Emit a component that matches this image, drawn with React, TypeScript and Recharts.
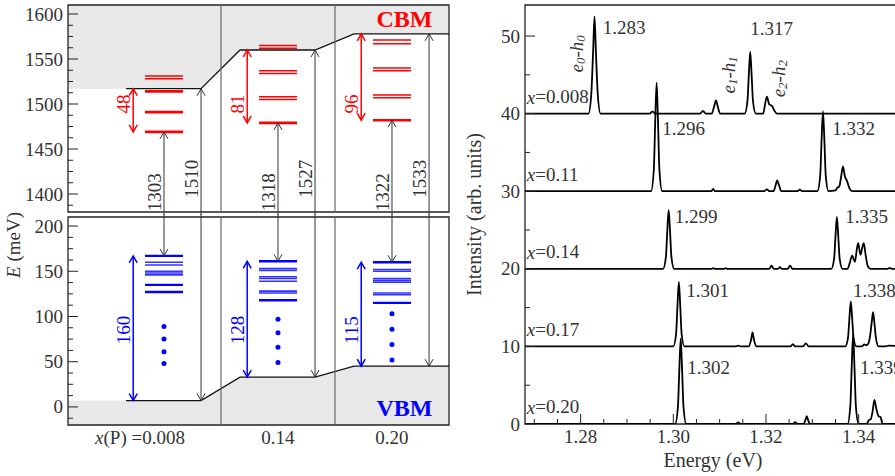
import React from 'react';
import {
  ComposedChart,
  Line,
  Area,
  XAxis,
  YAxis,
  ReferenceLine,
  ReferenceDot,
  ReferenceArea,
} from 'recharts';

const FONT = '"Liberation Serif", "Times New Roman", serif';
const INK = '#333';
const RED = '#ff0000';
const BLUE = '#0000ff';
const FS = 19;

// ---------- left panel: band diagram (meV) ----------
const compositions = ['0.008', '0.14', '0.20'];
const vbm = [7, 33, 45];
const cbm = [1517, 1560, 1578];
const eConf = [48, 81, 96]; // CBM - e0
const hConf = [160, 128, 115]; // h0 - VBM
const e0h0 = [1303, 1318, 1322];
const gapE = [1510, 1527, 1533];
const eLevels = [
  [1531, 1528, 1514, 1491, 1469],
  [1565, 1562, 1537, 1534, 1508, 1505, 1479],
  [1571, 1567, 1540, 1537, 1510, 1507, 1482],
];
const hLevels = [
  [167, 160, 157, 150, 148, 146, 135, 127],
  [161, 153, 151, 144, 142, 139, 128, 126, 118],
  [160, 152, 150, 142, 140, 138, 126, 124, 115],
];
const hDots = [
  [89, 75, 61, 48],
  [97, 82, 66, 49],
  [103, 86, 69, 52],
];

// ---------- right panel: spectra (E in eV, intensity above own baseline) ----------
const spectrumComps = ['0.008', '0.11', '0.14', '0.17', '0.20'];
const spectrumOffsets = [40, 30, 20, 10, 0];
const spec008 = [
  [1.268, 0], [1.2817, 0], [1.2823, 2.5], [1.2827, 8], [1.283, 12.5], [1.2833, 8], [1.2837, 2.5], [1.2843, 0],
  [1.2949, 0], [1.2955, 0.3], [1.2961, 0],
  [1.3058, 0], [1.3064, 0.35], [1.307, 0],
  [1.3083, 0], [1.3088, 0.9], [1.3092, 1.7], [1.3096, 0.9], [1.3101, 0],
  [1.3154, 0], [1.316, 1.6], [1.3163, 5], [1.3166, 8], [1.3169, 5], [1.3172, 1.6], [1.3178, 0],
  [1.3194, 0], [1.3198, 1.2], [1.3202, 2.2], [1.3207, 1.2], [1.3213, 1.0], [1.3218, 0.4], [1.3224, 0],
  [1.35, 0],
];
const spec011 = [
  [1.268, 0], [1.2952, 0], [1.2958, 2.8], [1.2961, 9], [1.2964, 14], [1.2967, 9], [1.297, 2.8], [1.2976, 0],
  [1.3082, 0], [1.3086, 0.3], [1.309, 0],
  [1.3196, 0], [1.3202, 0.25], [1.3207, 0],
  [1.3216, 0], [1.3221, 0.8], [1.3224, 1.4], [1.3228, 0.8], [1.3233, 0],
  [1.3268, 0], [1.3273, 0.2], [1.3278, 0],
  [1.3311, 0], [1.3317, 2], [1.332, 6.6], [1.3323, 10.3], [1.3326, 6.6], [1.3329, 2], [1.3335, 0],
  [1.335, 0.1], [1.3354, 0.45], [1.3358, 0.6], [1.3362, 1.8], [1.3366, 3.2], [1.337, 2.0], [1.3375, 1.3], [1.338, 0.4], [1.3386, 0],
  [1.35, 0],
];
const spec014 = [
  [1.268, 0], [1.2978, 0], [1.2984, 1.5], [1.2987, 4.8], [1.299, 7.6], [1.2993, 4.8], [1.2996, 1.5], [1.3002, 0],
  [1.3082, 0], [1.3086, 0.1], [1.309, 0], [1.3109, 0], [1.3113, 0.1], [1.3117, 0],
  [1.3207, 0], [1.3212, 0.4], [1.3217, 0], [1.3226, 0], [1.323, 0.2], [1.3234, 0], [1.3247, 0], [1.3252, 0.4], [1.3257, 0],
  [1.3341, 0], [1.3347, 1.3], [1.335, 4.2], [1.3353, 6.7], [1.3356, 4.2], [1.3359, 1.3], [1.3365, 0],
  [1.3376, 0], [1.3381, 0.8], [1.3386, 1.7], [1.3392, 0.9], [1.3396, 2.5], [1.3399, 3.3], [1.3404, 1.8], [1.3408, 2.8], [1.3411, 3.3], [1.3415, 1.8], [1.342, 0.3], [1.3426, 0],
  [1.3462, 0], [1.3467, 0.1], [1.3472, 0], [1.35, 0],
];
const spec017 = [
  [1.268, 0], [1.3, 0], [1.3006, 1.6], [1.3009, 5.2], [1.3012, 8.3], [1.3015, 5.2], [1.3018, 1.6], [1.3024, 0],
  [1.3135, 0], [1.314, 0.1], [1.3145, 0],
  [1.3163, 0], [1.3168, 0.9], [1.3171, 1.8], [1.3174, 0.9], [1.3179, 0],
  [1.3253, 0], [1.3258, 0.3], [1.3263, 0],
  [1.328, 0], [1.3286, 0.4], [1.3292, 0],
  [1.3371, 0], [1.3377, 1.1], [1.338, 3.6], [1.3383, 5.8], [1.3386, 3.6], [1.3389, 1.1], [1.3395, 0],
  [1.3407, 0], [1.3412, 0.25], [1.3417, 0.15], [1.3421, 0.4], [1.3425, 1.5], [1.3428, 3.0], [1.3431, 4.4], [1.3434, 3.0], [1.3437, 1.2], [1.3443, 0],
  [1.3458, 0], [1.3465, 0.1], [1.35, 0],
];
const spec020 = [
  [1.268, 0], [1.3004, 0], [1.301, 2.2], [1.3013, 7], [1.3016, 11], [1.3019, 7], [1.3022, 2.2], [1.3028, 0],
  [1.3135, 0], [1.314, 0.2], [1.3145, 0],
  [1.3258, 0], [1.3263, 0.25], [1.3268, 0],
  [1.3281, 0], [1.3285, 0.5], [1.3288, 1.0], [1.3291, 0.5], [1.3295, 0],
  [1.3376, 0], [1.3382, 2.3], [1.3385, 7.3], [1.3388, 11.5], [1.3391, 7.3], [1.3394, 2.3], [1.34, 0],
  [1.3417, 0], [1.3422, 0.5], [1.3426, 0.6], [1.343, 1.6], [1.3434, 3.1], [1.3438, 2.0], [1.3443, 1.0], [1.3447, 0.9], [1.3452, 0],
  [1.35, 0],
];
const spectra = [spec008, spec011, spec014, spec017, spec020];

const peakText = ['1.283', '1.317', '1.296', '1.332', '1.299', '1.335', '1.301', '1.338', '1.302', '1.339'];
const peakTextE = [1.2848, 1.3166, 1.2976, 1.3343, 1.3003, 1.3371, 1.3028, 1.3388, 1.303, 1.3403];
const peakTextI = [51.1, 51.0, 38.1, 38.1, 26.8, 26.8, 17.2, 17.2, 7.3, 7.3];
const pairIdx = ['0', '1', '2'];
const pairE = [1.279, 1.3117, 1.3227];
const pairI = [47.7, 45.0, 44.5];

// ---------- layout helpers ----------
const X_MIN = -0.342;
const X_MAX = 3;
const E_MIN = 1.268;
const E_MAX = 1.35;

const range = (a: number, b: number, step: number) => {
  const out: number[] = [];
  for (let k = a; k <= b; k++) out.push(k * step);
  return out;
};
const topTicks = range(111, 128, 12.5);
const botTicks = range(-1, 16, 12.5);
const specYTicks = range(0, 10, 5);
const specXTicks = range(254, 269, 1).map((k) => k / 200);
const isMajorE = (v: number) => Math.round(v * 200) % 4 === 0;

// levels that sit in a close pair are drawn thinner, like the split lines in the figure
const isPaired = (lv: number[], j: number) =>
  lv.some((o, k) => k !== j && Math.abs(o - lv[j]) <= 4);

const yTick = (isMajor: (v: number) => boolean, side: 'left' | 'right', label: boolean) => (p: any) => {
  const v = p.payload.value;
  const len = isMajor(v) ? 10 : 5;
  const s = side === 'left' ? 1 : -1;
  return (
    <g>
      <line x1={p.x} x2={p.x + s * len} y1={p.y} y2={p.y} stroke="#222" strokeWidth={1} />
      {label && isMajor(v) && (
        <text
          x={p.x - 5}
          y={p.y}
          textAnchor="end"
          dominantBaseline="central"
          fontSize={FS}
          fontFamily={FONT}
          fill={INK}
        >
          {v}
        </text>
      )}
    </g>
  );
};

const xTickBottom = (p: any) => {
  const v = p.payload.value;
  const major = isMajorE(v);
  return (
    <g>
      <line x1={p.x} x2={p.x} y1={p.y} y2={p.y - (major ? 10 : 5)} stroke="#222" strokeWidth={1} />
      {major && (
        <text x={p.x} y={p.y + 19} textAnchor="middle" fontSize={FS} fontFamily={FONT} fill={INK}>
          {v.toFixed(2)}
        </text>
      )}
    </g>
  );
};

const xTickTop = (p: any) => {
  const major = isMajorE(p.payload.value);
  return <line x1={p.x} x2={p.x} y1={p.y} y2={p.y + (major ? 10 : 5)} stroke="#222" strokeWidth={1} />;
};

const compTick = (p: any) => {
  const i = Math.floor(p.payload.value);
  if (i === 0) {
    return (
      <text x={p.x + 21} y={p.y + 19} textAnchor="end" fontSize={FS} fontFamily={FONT} fill={INK}>
        <tspan fontStyle="italic">x</tspan>(P) ={compositions[0]}
      </text>
    );
  }
  return (
    <text x={p.x} y={p.y + 19} textAnchor="middle" fontSize={FS} fontFamily={FONT} fill={INK}>
      {compositions[i]}
    </text>
  );
};

type ArrowOpt = { color: string; w: number; start?: boolean; end?: boolean; ext?: number };
const arrowShape = ({ color, w, start, end, ext = 0 }: ArrowOpt) => (p: any) => {
  const { x1, y1, x2, y2 } = p;
  const dir = y2 > y1 ? 1 : -1;
  const head = (x: number, y: number, d: number) => (
    <polyline
      points={`${x - 4},${y - d * 7} ${x},${y} ${x + 4},${y - d * 7}`}
      fill="none"
      stroke={color}
      strokeWidth={w}
    />
  );
  return (
    <g>
      <line x1={x1} y1={y1 - dir * ext} x2={x2} y2={y2} stroke={color} strokeWidth={w} />
      {end && head(x2, y2, dir)}
      {start && head(x1, y1, -dir)}
    </g>
  );
};

const vText = (text: React.ReactNode, fill: string, dx = 0) => (p: any) => {
  const x = p.cx + dx;
  return (
    <text
      x={x}
      y={p.cy}
      transform={`rotate(-90 ${x} ${p.cy})`}
      textAnchor="middle"
      dominantBaseline="central"
      fontSize={FS}
      fontFamily={FONT}
      fill={fill}
    >
      {text}
    </text>
  );
};

const hText = (text: React.ReactNode, anchor: 'start' | 'middle', opts: any = {}) => (p: any) => (
  <text
    x={p.cx}
    y={p.cy}
    textAnchor={anchor}
    dominantBaseline="central"
    fontSize={FS}
    fontFamily={FONT}
    fill={INK}
    {...opts}
  >
    {text}
  </text>
);

const cols = [0, 1, 2];

// band edge polylines (x in column units)
const edgePts = (lv: number[]) =>
  cols.flatMap((c) => [
    { x: c + 0.167, y: lv[c] },
    { x: c + 0.825, y: lv[c] },
  ]).concat([{ x: X_MAX, y: lv[2] }]);
const cbLine = edgePts(cbm);
const vbLine = edgePts(vbm);
const cbFill = [{ x: X_MIN, y: cbm[0] }, ...cbLine];
const vbFill = [{ x: X_MIN, y: vbm[0] }, ...vbLine];

const TOP_DOM = [1380, 1610];
const BOT_DOM = [-20, 210];

function frame(yDom: number[], xDom: number[]) {
  return (
    <ReferenceArea
      x1={xDom[0]}
      x2={xDom[1]}
      y1={yDom[0]}
      y2={yDom[1]}
      fill="none"
      stroke="#222"
      strokeWidth={1.3}
      ifOverflow="visible"
    />
  );
}

function dividers() {
  return [1, 2].map((x) => <ReferenceLine key={`d${x}`} x={x} stroke="#666" strokeWidth={1.2} />);
}

function TopLeft() {
  return (
    <ComposedChart width={455} height={220} margin={{ top: 5, right: 6, bottom: 8, left: 0 }}>
      <XAxis type="number" dataKey="x" domain={[X_MIN, X_MAX]} hide allowDataOverflow />
      <YAxis
        type="number"
        domain={TOP_DOM}
        ticks={topTicks}
        interval={0}
        width={68}
        tickSize={0}
        tickMargin={0}
        axisLine={false}
        tickLine={false}
        tick={yTick((v) => v % 50 === 0, 'left', true)}
        allowDataOverflow
      />
      <YAxis
        yAxisId="r"
        orientation="right"
        type="number"
        domain={TOP_DOM}
        ticks={topTicks}
        interval={0}
        width={0}
        tickSize={0}
        tickMargin={0}
        axisLine={false}
        tickLine={false}
        tick={yTick((v) => v % 50 === 0, 'right', false)}
        allowDataOverflow
      />
      <Area
        data={cbFill}
        dataKey={(d: any) => [d.y, TOP_DOM[1]]}
        type="linear"
        fill="#e8e8e8"
        fillOpacity={1}
        stroke="none"
        isAnimationActive={false}
      />
      <Line data={cbLine} dataKey="y" type="linear" stroke="#111" strokeWidth={1.3} dot={false} activeDot={false} isAnimationActive={false} />
      {dividers()}
      {cols.flatMap((c) =>
        eLevels[c].map((e, j) => (
          <ReferenceLine
            key={`e${c}-${j}`}
            segment={[{ x: c + 1 / 3, y: e }, { x: c + 2 / 3, y: e }]}
            stroke={RED}
            strokeWidth={isPaired(eLevels[c], j) ? 1.5 : 2.6}
          />
        )),
      )}
      {cols.map((c) => (
        <ReferenceLine
          key={`ea${c}`}
          segment={[{ x: c + 0.23, y: cbm[c] }, { x: c + 0.23, y: cbm[c] - eConf[c] }]}
          shape={arrowShape({ color: RED, w: 1.5, start: true, end: true })}
        />
      ))}
      {cols.map((c) => (
        <ReferenceLine
          key={`t${c}`}
          segment={[{ x: c + 0.5, y: TOP_DOM[0] }, { x: c + 0.5, y: cbm[c] - eConf[c] }]}
          shape={arrowShape({ color: INK, w: 1, end: true, ext: 3 })}
        />
      ))}
      {cols.map((c) => (
        <ReferenceLine
          key={`g${c}`}
          segment={[{ x: c + 0.825, y: TOP_DOM[0] }, { x: c + 0.825, y: cbm[c] }]}
          shape={arrowShape({ color: INK, w: 1, end: true, ext: 3 })}
        />
      ))}
      {cols.map((c) => (
        <ReferenceDot key={`el${c}`} x={c + 0.23} y={1500} r={0} shape={vText(eConf[c], RED, -10)} />
      ))}
      {cols.map((c) => (
        <ReferenceDot key={`tl${c}`} x={c + 0.5} y={1402} r={0} shape={vText(e0h0[c], INK, -9)} />
      ))}
      {cols.map((c) => (
        <ReferenceDot key={`gl${c}`} x={c + 0.825} y={1417} r={0} shape={vText(gapE[c], INK, -10)} />
      ))}
      <ReferenceDot
        x={2.61}
        y={1594}
        r={0}
        shape={hText('CBM', 'middle', { fill: RED, fontWeight: 'bold', fontSize: 24 })}
      />
      {frame(TOP_DOM, [X_MIN, X_MAX])}
    </ComposedChart>
  );
}

function BottomLeft() {
  return (
    <ComposedChart width={455} height={243} margin={{ top: 5, right: 6, bottom: 0, left: 0 }}>
      <XAxis
        type="number"
        dataKey="x"
        domain={[X_MIN, X_MAX]}
        ticks={[0.5, 1.5, 2.5]}
        interval={0}
        height={30}
        tickSize={0}
        tickMargin={0}
        axisLine={false}
        tickLine={false}
        tick={compTick}
        allowDataOverflow
      />
      <YAxis
        type="number"
        domain={BOT_DOM}
        ticks={botTicks}
        interval={0}
        width={68}
        tickSize={0}
        tickMargin={0}
        axisLine={false}
        tickLine={false}
        tick={yTick((v) => v % 50 === 0, 'left', true)}
        allowDataOverflow
        label={{
          content: (p: any) => {
            const x = 20;
            const y = (p.viewBox?.y ?? 5) + 28;
            return (
              <text
                x={x}
                y={y}
                transform={`rotate(-90 ${x} ${y})`}
                textAnchor="middle"
                fontSize={FS}
                fontFamily={FONT}
                fill={INK}
              >
                <tspan fontStyle="italic">E</tspan> (meV)
              </text>
            );
          },
        }}
      />
      <YAxis
        yAxisId="r"
        orientation="right"
        type="number"
        domain={BOT_DOM}
        ticks={botTicks}
        interval={0}
        width={0}
        tickSize={0}
        tickMargin={0}
        axisLine={false}
        tickLine={false}
        tick={yTick((v) => v % 50 === 0, 'right', false)}
        allowDataOverflow
      />
      <Area
        data={vbFill}
        dataKey={(d: any) => [BOT_DOM[0], d.y]}
        type="linear"
        fill="#e8e8e8"
        fillOpacity={1}
        stroke="none"
        isAnimationActive={false}
      />
      <Line data={vbLine} dataKey="y" type="linear" stroke="#111" strokeWidth={1.3} dot={false} activeDot={false} isAnimationActive={false} />
      {dividers()}
      {cols.flatMap((c) =>
        hLevels[c].map((e, j) => (
          <ReferenceLine
            key={`h${c}-${j}`}
            segment={[{ x: c + 1 / 3, y: e }, { x: c + 2 / 3, y: e }]}
            stroke={BLUE}
            strokeWidth={isPaired(hLevels[c], j) ? 1.6 : 2.4}
            strokeOpacity={isPaired(hLevels[c], j) ? 0.8 : 1}
          />
        )),
      )}
      {cols.flatMap((c) =>
        hDots[c].map((d, j) => (
          <ReferenceDot key={`dot${c}-${j}`} x={c + 0.5} y={d} r={2.5} fill={BLUE} stroke="none" />
        )),
      )}
      {cols.map((c) => (
        <ReferenceLine
          key={`ha${c}`}
          segment={[{ x: c + 0.23, y: vbm[c] }, { x: c + 0.23, y: vbm[c] + hConf[c] }]}
          shape={arrowShape({ color: BLUE, w: 1.5, start: true, end: true })}
        />
      ))}
      {cols.map((c) => (
        <ReferenceLine
          key={`t${c}`}
          segment={[{ x: c + 0.5, y: BOT_DOM[1] }, { x: c + 0.5, y: vbm[c] + hConf[c] }]}
          shape={arrowShape({ color: INK, w: 1, end: true, ext: 3 })}
        />
      ))}
      {cols.map((c) => (
        <ReferenceLine
          key={`g${c}`}
          segment={[{ x: c + 0.825, y: BOT_DOM[1] }, { x: c + 0.825, y: vbm[c] }]}
          shape={arrowShape({ color: INK, w: 1, end: true, ext: 3 })}
        />
      ))}
      {cols.map((c) => (
        <ReferenceDot key={`hl${c}`} x={c + 0.23} y={85} r={0} shape={vText(hConf[c], BLUE, -10)} />
      ))}
      <ReferenceDot
        x={2.61}
        y={-1}
        r={0}
        shape={hText('VBM', 'middle', { fill: BLUE, fontWeight: 'bold', fontSize: 24 })}
      />
      {frame(BOT_DOM, [X_MIN, X_MAX])}
    </ComposedChart>
  );
}

const spectrumRows = spectra.map((s, i) => s.map(([e, v]) => ({ e, v: v + spectrumOffsets[i] })));

function Spectra() {
  return (
    <ComposedChart width={460} height={476} margin={{ top: 5, right: 15, bottom: 0, left: 0 }}>
      <XAxis
        type="number"
        dataKey="e"
        domain={[E_MIN, E_MAX]}
        ticks={specXTicks}
        interval={0}
        height={52}
        tickSize={0}
        tickMargin={0}
        axisLine={false}
        tickLine={false}
        tick={xTickBottom}
        allowDataOverflow
        label={{
          content: (p: any) => {
            const vb = p.viewBox || { x: 65, y: 424, width: 380 };
            return (
              <text
                x={vb.x + vb.width / 2 - 2}
                y={vb.y + 43}
                textAnchor="middle"
                fontSize={20}
                fontFamily={FONT}
                fill={INK}
              >
                Energy (eV)
              </text>
            );
          },
        }}
      />
      <XAxis
        xAxisId="top"
        orientation="top"
        type="number"
        dataKey="e"
        domain={[E_MIN, E_MAX]}
        ticks={specXTicks}
        interval={0}
        height={0}
        tickSize={0}
        tickMargin={0}
        axisLine={false}
        tickLine={false}
        tick={xTickTop}
        allowDataOverflow
      />
      <YAxis
        type="number"
        domain={[0, 54]}
        ticks={specYTicks}
        interval={0}
        width={65}
        tickSize={0}
        tickMargin={0}
        axisLine={false}
        tickLine={false}
        tick={yTick((v) => v % 10 === 0, 'left', true)}
        allowDataOverflow
        label={{
          content: (p: any) => {
            const vb = p.viewBox || { y: 5, height: 419 };
            const x = 21;
            const y = vb.y + vb.height / 2;
            return (
              <text
                x={x}
                y={y}
                transform={`rotate(-90 ${x} ${y})`}
                textAnchor="middle"
                fontSize={20}
                fontFamily={FONT}
                fill={INK}
              >
                Intensity (arb. units)
              </text>
            );
          },
        }}
      />
      {spectrumRows.map((rows, i) => (
        <Line
          key={`s${i}`}
          data={rows}
          dataKey="v"
          type="monotone"
          stroke="#000"
          strokeWidth={1.8}
          dot={false}
          activeDot={false}
          isAnimationActive={false}
        />
      ))}
      {spectrumComps.map((t, i) => (
        <ReferenceDot
          key={`c${i}`}
          x={1.2684}
          y={spectrumOffsets[i] + 2.2}
          r={0}
          shape={hText(
            <>
              <tspan fontStyle="italic">x</tspan>={t}
            </>,
            'start',
          )}
        />
      ))}
      {peakText.map((t, i) => (
        <ReferenceDot key={`p${i}`} x={peakTextE[i]} y={peakTextI[i]} r={0} shape={hText(t, 'start')} />
      ))}
      {pairIdx.map((n, i) => (
        <ReferenceDot
          key={`eh${i}`}
          x={pairE[i]}
          y={pairI[i]}
          r={0}
          shape={vText(
            <tspan fontStyle="italic">
              e<tspan dy={4} fontSize={13}>{n}</tspan>
              <tspan dy={-4}>-h</tspan>
              <tspan dy={4} fontSize={13}>{n}</tspan>
            </tspan>,
            INK,
          )}
        />
      ))}
      {frame([0, 54], [E_MIN, E_MAX])}
    </ComposedChart>
  );
}

export default function App() {
  return (
    <div
      style={{
        position: 'absolute',
        left: 0,
        top: 0,
        width: 895,
        height: 476,
        overflow: 'hidden',
        background: '#fff',
        fontFamily: FONT,
      }}
    >
      <div style={{ position: 'absolute', left: 0, top: 0 }}>
        <TopLeft />
      </div>
      <div style={{ position: 'absolute', left: 0, top: 212 }}>
        <BottomLeft />
      </div>
      <div style={{ position: 'absolute', left: 460, top: 0 }}>
        <Spectra />
      </div>
    </div>
  );
}
